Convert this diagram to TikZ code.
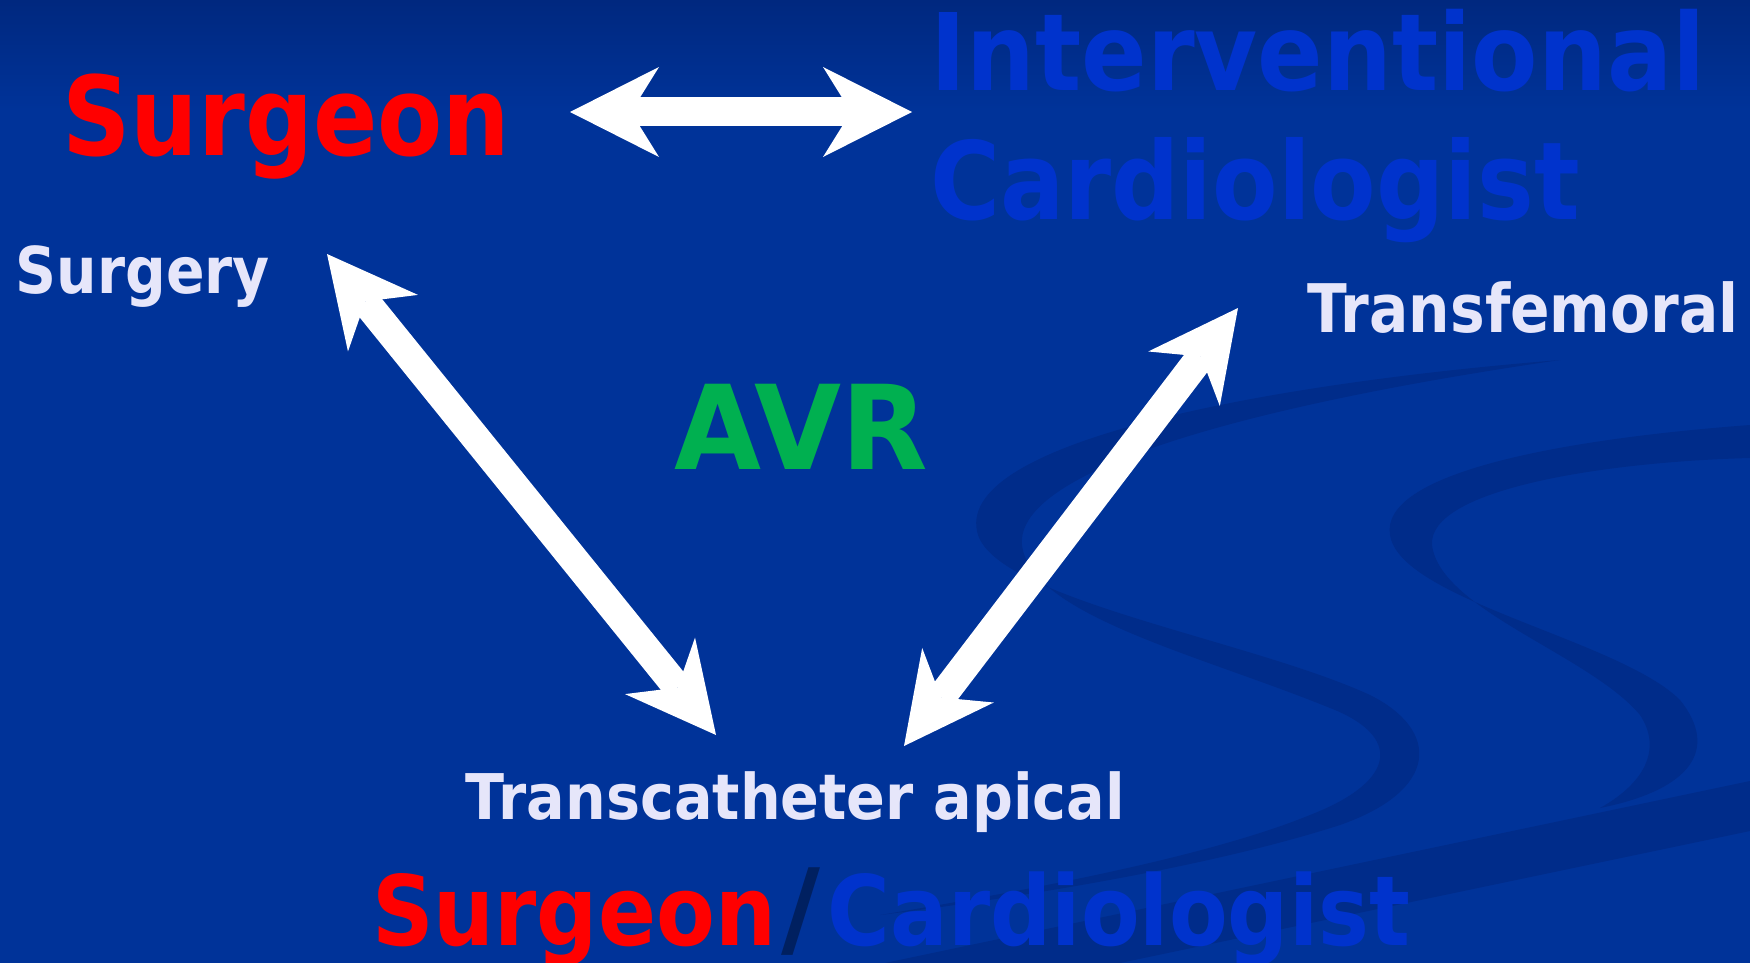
\documentclass[tikz,border=0pt]{standalone}
\usepackage{fontspec}
\setmainfont{DejaVu Sans}
\usepackage{graphicx}
\usetikzlibrary{arrows.meta}
\definecolor{slidebg}{HTML}{003399}
\definecolor{slidetop}{HTML}{00287F}
\definecolor{swirl}{HTML}{002C8A}
\definecolor{surgred}{HTML}{FF0000}
\definecolor{cardblue}{HTML}{0033CC}
\definecolor{avrgreen}{HTML}{00B050}
\definecolor{labelwhite}{HTML}{E6E6FA}
\definecolor{slashnavy}{HTML}{002060}
% stretch a label horizontally to a given width, keeping its height
\newcommand\fitw[2]{\resizebox{#1}{\height}{#2}}
\newcommand\fsz[1]{\fontsize{#1}{#1}\selectfont\bfseries}
\begin{document}
\begin{tikzpicture}[x=1pt,y=-1pt,
  lbl/.style={inner sep=0pt, anchor=base},
  dblarrow/.style={draw=white, line width=29pt, {Stealth[length=89pt,width=90pt,inset=28pt,line width=0pt]}-{Stealth[length=89pt,width=90pt,inset=28pt,line width=0pt]}}]
\useasboundingbox (0,0) rectangle (1750,963);
% background
\fill[slidebg] (0,0) rectangle (1750,963);
\shade[top color=slidetop, bottom color=slidebg] (0,0) rectangle (1750,110);
% ribbon swirls
\fill[swirl] (1560,360) .. controls (1250,385) and (950,445) .. (978,535)
  .. controls (1000,600) and (1250,640) .. (1370,695)
  .. controls (1440,730) and (1440,790) .. (1340,825)
  .. controls (1200,870) and (1000,900) .. (880,915)
  .. controls (1000,895) and (1200,860) .. (1310,815)
  .. controls (1400,780) and (1400,735) .. (1330,708)
  .. controls (1200,655) and (1030,615) .. (1022,545)
  .. controls (1015,470) and (1250,405) .. (1560,360) -- cycle;
\fill[swirl] (1750,425) .. controls (1550,440) and (1380,475) .. (1390,535)
  .. controls (1400,600) and (1620,640) .. (1680,700)
  .. controls (1720,750) and (1690,790) .. (1600,808)
  .. controls (1650,780) and (1660,745) .. (1640,715)
  .. controls (1590,655) and (1440,610) .. (1432,545)
  .. controls (1428,490) and (1600,462) .. (1750,458) -- cycle;
\fill[swirl] (885,963) -- (1750,781) -- (1750,831) -- (1120,963) -- cycle;

% labels
\node[lbl, text=surgred, font=\fsz{110pt}] (surgeon) at (286.5,155) {\fitw{448pt}{Surgeon}};
\node[lbl, text=cardblue, font=\fsz{107pt}] (interv) at (1318,91) {\fitw{775pt}{Interventional}};
\node[lbl, text=cardblue, font=\fsz{108pt}] (cardio) at (1255,219) {\fitw{650pt}{Cardiologist}};
\node[lbl, text=labelwhite, font=\fsz{64.5pt}] (surgery) at (143,293) {\fitw{254pt}{Surgery}};
\node[lbl, text=labelwhite, font=\fsz{67pt}] (transfem) at (1523,332) {\fitw{431pt}{Transfemoral}};
\node[lbl, text=avrgreen, font=\fsz{117pt}] (avr) at (801,469) {\fitw{253pt}{AVR}};
\node[lbl, text=labelwhite, font=\fsz{63pt}] (apical) at (795.5,819) {\fitw{659pt}{Transcatheter apical}};
\node[lbl, text=surgred, font=\fsz{97pt}] (surgeon2) at (574,945) {\fitw{404pt}{Surgeon}};
\node[lbl, text=slashnavy, font=\fsz{97pt}] (slash) at (800.5,945) {\scalebox{1.1}[1.1]{/}};
\node[lbl, text=cardblue, font=\fsz{97pt}] (cardio2) at (1119,945) {\fitw{582pt}{Cardiologist}};

% arrow end points
\coordinate (teamL) at (570,112);
\coordinate (teamR) at (912,112);
\coordinate (surgTip) at (327,254);
\coordinate (apicalL) at (716,735);
\coordinate (femTip) at (1238,308);
\coordinate (apicalR) at (904,746);

% double-headed arrows
\draw[dblarrow] (teamL) -- (teamR);
\draw[dblarrow] (surgTip) -- (apicalL);
\draw[dblarrow] (femTip) -- (apicalR);
\end{tikzpicture}
\end{document}
